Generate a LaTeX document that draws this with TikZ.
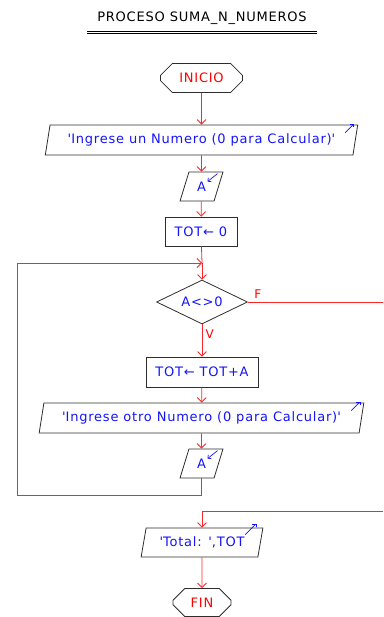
\documentclass[tikz,border=0pt]{standalone}
\usepackage{fontspec}
\setmainfont{DejaVu Sans}[LetterSpace=6]
\usetikzlibrary{arrows.meta}
\usetikzlibrary{shapes.geometric}
\usetikzlibrary{shapes.misc}

\definecolor{edge}{RGB}{45,45,45}
\definecolor{txtblue}{RGB}{20,20,250}
\definecolor{flowred}{RGB}{250,40,40}
\newcommand{\sq}{\textquotesingle}

\tikzset{
  base/.style={draw=edge, line width=0.8pt, inner sep=0pt, text=txtblue,
    font=\fontsize{13}{15}\selectfont},
  terminal/.style={base, chamfered rectangle, chamfered rectangle xsep=7pt,
    chamfered rectangle ysep=7pt, text=red},
  io/.style={base, trapezium, trapezium left angle=71.6, trapezium right angle=108.4,
    trapezium stretches=true, minimum height=30pt},
  proc/.style={base, rectangle},
  decision/.style={base, diamond, aspect=2},
  flow/.style={flowred, line width=0.8pt, -{Straight Barb[length=4.5pt,width=9pt]}},
  plain/.style={flowred, line width=0.8pt},
  iomark/.style={txtblue, line width=0.7pt, -{Straight Barb[length=2.5pt,width=5pt]}}
}

\begin{document}
\begin{tikzpicture}[x=1pt,y=-1pt]
\useasboundingbox (0,0) rectangle (383,617);

\node[font=\fontsize{13}{15}\selectfont] (title) at (202,18) {PROCESO SUMA\_N\_NUMEROS};
\draw[line width=0.7pt] (87,31) -- (317,31) (87,33.5) -- (317,33.5);

\node[terminal, minimum width=82pt, minimum height=29pt] (inicio) at (201.5,78) {INICIO};
\node[io, minimum width=313pt] (msg1) at (201.5,140) {\sq Ingrese un Numero (0 para Calcular)\sq};
\node[io, minimum width=43pt, minimum height=29pt] (leer1) at (201.5,186.5) {A};
\node[proc, minimum width=72pt, minimum height=29pt] (tot0) at (201,231.5) {TOT← 0};
\node[decision, minimum width=91pt, minimum height=44pt] (cond) at (202,302) {A<>0};
\node[proc, minimum width=112pt, minimum height=30pt] (suma) at (202,372) {TOT← TOT+A};
\node[io, minimum width=325pt] (msg2) at (201.5,418) {\sq Ingrese otro Numero (0 para Calcular)\sq};
\node[io, minimum width=43pt, minimum height=29pt] (leer2) at (201.5,463.5) {A};
\node[io, minimum width=122pt, minimum height=29pt] (total) at (202,542.5) {\sq Total: \sq,TOT};
\node[terminal, minimum width=58pt, minimum height=28pt] (fin) at (202,602.5) {FIN};

\coordinate (join) at (202,263);
\coordinate (loopb) at (17,495);
\coordinate (loopt) at (17,263);
\coordinate (fout) at (383,302);
\coordinate (fin2) at (383,511);

\draw[flow] (inicio) -- (msg1);
\draw[flow] (msg1) -- (leer1);
\draw[flow] (leer1) -- (tot0);
\draw[plain] (tot0) -- (join);
\draw[flow] (join) -- (cond);
\draw[flow] (cond) -- node[pos=0.3, right, text=red, font=\fontsize{12}{14}\selectfont]{V} (suma);
\draw[flow] (suma) -- (msg2);
\draw[flow] (msg2) -- (leer2);
\draw[flow] (leer2.south) |- (loopb) -- (loopt) -- (join);
\draw[plain] (cond.east) -- node[pos=0.02, above right, text=red, font=\fontsize{12}{14}\selectfont]{F} (fout);
\draw[flow] (fin2) -| (total.north);
\draw[flow] (total) -- (fin);

\draw[iomark] ([shift={(-13,8)}]msg1.top right corner) -- ([shift={(-4,-1)}]msg1.top right corner);
\draw[iomark] ([shift={(-6,2)}]leer1.top right corner) -- ([shift={(-16,10)}]leer1.top right corner);
\draw[iomark] ([shift={(-13,8)}]msg2.top right corner) -- ([shift={(-4,-1)}]msg2.top right corner);
\draw[iomark] ([shift={(-6,2)}]leer2.top right corner) -- ([shift={(-16,10)}]leer2.top right corner);
\draw[iomark] ([shift={(-18,7)}]total.top right corner) -- ([shift={(-7,-4)}]total.top right corner);
\end{tikzpicture}
\end{document}
